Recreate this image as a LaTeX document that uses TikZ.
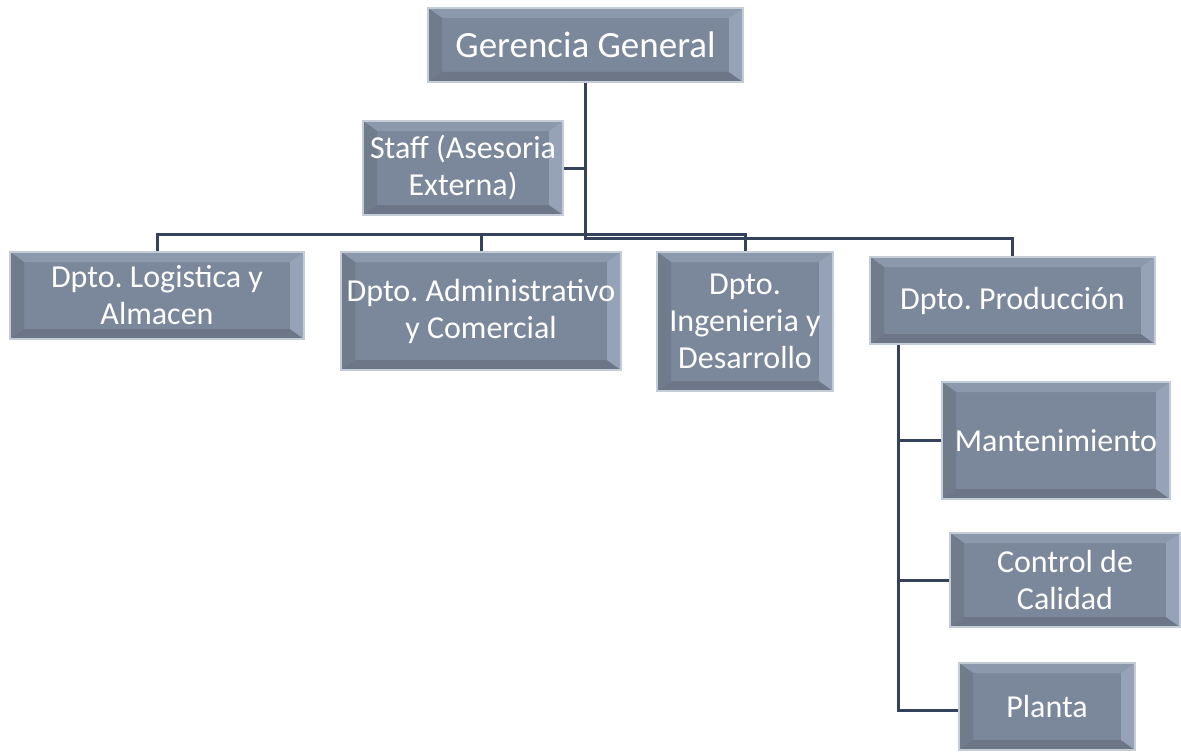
\documentclass[tikz,border=0pt]{standalone}
\usepackage{fontspec}
\setmainfont{Carlito}
\frenchspacing
\definecolor{facec}{RGB}{123,135,155}
\definecolor{topc}{RGB}{140,152,172}
\definecolor{rightc}{RGB}{150,162,184}
\definecolor{leftc}{RGB}{112,123,140}
\definecolor{botc}{RGB}{108,118,135}
\definecolor{edgec}{RGB}{196,204,216}
\definecolor{linec}{RGB}{52,66,92}
\tikzset{
  box/.style={draw=edgec, line width=1.5pt, fill=facec, text=white, align=center,
    inner sep=0pt, font=\fontsize{32}{37}\selectfont,
    path picture={
      \def\pb{path picture bounding box}
      \fill[topc] (\pb.north west) -- (\pb.north east) -- ([xshift=-14pt,yshift=-10pt]\pb.north east) -- ([xshift=14pt,yshift=-10pt]\pb.north west) -- cycle;
      \fill[botc] (\pb.south west) -- (\pb.south east) -- ([xshift=-14pt,yshift=10pt]\pb.south east) -- ([xshift=14pt,yshift=10pt]\pb.south west) -- cycle;
      \fill[leftc] (\pb.north west) -- (\pb.south west) -- ([xshift=14pt,yshift=10pt]\pb.south west) -- ([xshift=14pt,yshift=-10pt]\pb.north west) -- cycle;
      \fill[rightc] (\pb.north east) -- (\pb.south east) -- ([xshift=-14pt,yshift=10pt]\pb.south east) -- ([xshift=-14pt,yshift=-10pt]\pb.north east) -- cycle;
    }},
  conn/.style={draw=linec, line width=3pt}
}
\begin{document}
\begin{tikzpicture}[x=1pt,y=-1pt]
\useasboundingbox (0,0) rectangle (1181,752);
% boxes
\node[box, minimum width=315pt, minimum height=74pt, font=\fontsize{37}{44}\selectfont] (gg) at (585.5,45) {Gerencia General};
\node[box, minimum width=200pt, minimum height=94pt] (staff) at (463,168) {Staff (Asesoria\\Externa)};
\node[box, minimum width=294pt, minimum height=87pt] (log) at (157,295.5) {Dpto. Logistica y\\Almacen};
\node[box, minimum width=280pt, minimum height=118pt] (adm) at (481,311) {Dpto. Administrativo\\y Comercial};
\node[box, minimum width=176pt, minimum height=139pt] (ing) at (745,321.5) {Dpto.\\Ingenieria y\\Desarrollo};
\node[box, minimum width=285pt, minimum height=87pt] (prod) at (1012.5,300.5) {Dpto. Producción};
\node[box, minimum width=228pt, minimum height=117pt] (mant) at (1056,440.5) {Mantenimiento};
\node[box, minimum width=230pt, minimum height=94pt] (cal) at (1065,580) {Control de\\Calidad};
\node[box, minimum width=176pt, minimum height=87pt] (pla) at (1047,706.5) {Planta};
% bus coordinates
\coordinate (b2) at (1012.5,238);
\coordinate (b1l) at (157,234);
\coordinate (b1r) at (745,234);
\coordinate (pv) at (898,710);
% connectors
\draw[conn] (gg.south) |- (b2) -- (prod.north);
\draw[conn] (staff.east) -- (staff.east -| gg.south);
\draw[conn] (log.north) -- (b1l) -- (b1r) -- (ing.north);
\draw[conn] (adm.north) -- (adm.north |- b1l);
\draw[conn] (prod.south -| pv) -- (pv) -- (pv -| pla.west);
\draw[conn] (pv |- mant.west) -- (mant.west);
\draw[conn] (pv |- cal.west) -- (cal.west);
\end{tikzpicture}
\end{document}
